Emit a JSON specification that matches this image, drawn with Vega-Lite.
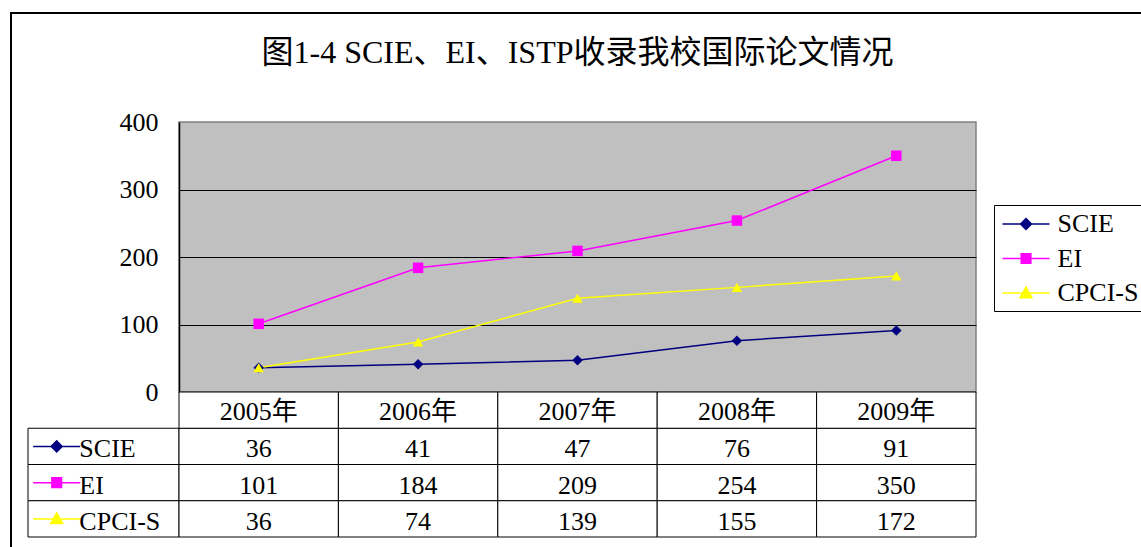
{
  "$schema": "https://vega.github.io/schema/vega-lite/v6.json",
  "width": 797,
  "height": 270,
  "autosize": {"type": "none"},
  "padding": {"left": 179, "top": 122, "right": 165, "bottom": 155},
  "background": "white",
  "title": {
    "text": "图1-4 SCIE、EI、ISTP收录我校国际论文情况",
    "font": "Liberation Serif, Noto Sans CJK SC",
    "fontSize": 32,
    "fontWeight": "normal",
    "color": "black",
    "anchor": "middle",
    "offset": -58
  },
  "config": {
    "view": {"fill": "#C0C0C0", "stroke": "#808080", "strokeWidth": 1.5},
    "font": "Liberation Serif, Noto Sans CJK SC",
    "legend": {
      "orient": "none",
      "legendX": 815,
      "legendY": 83,
      "strokeColor": "black",
      "fillColor": "white",
      "padding": 5,
      "rowPadding": 7.5,
      "labelFont": "Liberation Serif",
      "labelFontSize": 26,
      "labelColor": "black",
      "labelLimit": 300,
      "symbolSize": 676,
      "symbolStrokeWidth": 1.5,
      "symbolOpacity": 1,
      "labelOffset": 17.5,
      "symbolOffset": 13,
      "cornerRadius": 0
    }
  },
  "datasets": {
    "d": [
      {"year": "2005年", "series": "SCIE", "value": 36},
      {"year": "2006年", "series": "SCIE", "value": 41},
      {"year": "2007年", "series": "SCIE", "value": 47},
      {"year": "2008年", "series": "SCIE", "value": 76},
      {"year": "2009年", "series": "SCIE", "value": 91},
      {"year": "2005年", "series": "EI", "value": 101},
      {"year": "2006年", "series": "EI", "value": 184},
      {"year": "2007年", "series": "EI", "value": 209},
      {"year": "2008年", "series": "EI", "value": 254},
      {"year": "2009年", "series": "EI", "value": 350},
      {"year": "2005年", "series": "CPCI-S", "value": 36},
      {"year": "2006年", "series": "CPCI-S", "value": 74},
      {"year": "2007年", "series": "CPCI-S", "value": 139},
      {"year": "2008年", "series": "CPCI-S", "value": 155},
      {"year": "2009年", "series": "CPCI-S", "value": 172}
    ]
  },
  "data": {"name": "d"},
  "resolve": {"scale": {"x": "independent", "y": "independent"}},
  "layer": [
    {
      "transform": [
        {"aggregate": [{"op": "count", "as": "n"}], "groupby": ["series"]},
        {"calculate": "'lbl'", "as": "col"}
      ],
      "layer": [
        {
          "mark": {"type": "rect", "fill": "white", "stroke": "black", "strokeWidth": 1},
          "encoding": {
            "x": {"field": "col", "type": "nominal", "scale": {"type": "band", "domain": ["lbl"], "range": [-151, 0], "paddingInner": 0, "paddingOuter": 0}, "axis": null},
            "y": {"field": "series", "type": "nominal", "scale": {"type": "band", "domain": ["hdr", "SCIE", "EI", "CPCI-S"], "range": [270, 415], "paddingInner": 0, "paddingOuter": 0}, "axis": null}
          }
        },
        {
          "mark": {"type": "point", "filled": true, "size": 676, "strokeWidth": 1.5, "opacity": 1},
          "encoding": {
            "x": {"field": "col", "type": "nominal", "bandPosition": 0.19, "axis": null},
            "y": {"field": "series", "type": "nominal", "axis": null},
            "color": {
              "field": "series", "type": "nominal",
              "scale": {"domain": ["SCIE", "EI", "CPCI-S", "SCIE.m", "EI.m", "CPCI-S.m"], "range": ["#000080", "#FF00FF", "#FFFF00", "#000080", "#FF00FF", "#FFFF00"]},
              "legend": {"values": ["SCIE", "EI", "CPCI-S"], "title": null}
            },
            "stroke": {
              "field": "series", "type": "nominal",
              "scale": {"domain": ["SCIE", "EI", "CPCI-S", "SCIE.m", "EI.m", "CPCI-S.m"], "range": ["#000080", "#FF00FF", "#FFFF00", "#000080", "#FF00FF", "#FFFF00"]},
              "legend": {"values": ["SCIE", "EI", "CPCI-S"], "title": null}
            },
            "shape": {
              "field": "series", "type": "nominal",
              "scale": {
                "domain": ["SCIE", "EI", "CPCI-S", "SCIE.m", "EI.m", "CPCI-S.m"],
                "range": [
                  "M-1.81,0L1.81,0M-0.42,0L0,-0.42L0.42,0L0,0.42Z",
                  "M-1.81,0L1.81,0M-0.37,-0.37L0.37,-0.37L0.37,0.37L-0.37,0.37Z",
                  "M-1.81,0L1.81,0M0,-0.46L0.46,0.36L-0.46,0.36Z",
                  "diamond", "square", "triangle-up"
                ]
              },
              "legend": {"values": ["SCIE", "EI", "CPCI-S"], "title": null}
            }
          }
        },
        {
          "mark": {"type": "text", "align": "left", "baseline": "middle", "fontSize": 26, "color": "black", "dy": 3},
          "encoding": {
            "x": {"field": "col", "type": "nominal", "bandPosition": 0.34, "axis": null},
            "y": {"field": "series", "type": "nominal", "axis": null},
            "text": {"field": "series"}
          }
        }
      ]
    },
    {
      "data": {"values": [{"f": "frame"}]},
      "mark": {"type": "rect", "fillOpacity": 0, "stroke": "black", "strokeWidth": 2},
      "encoding": {
        "x": {"field": "f", "type": "nominal", "scale": {"type": "band", "domain": ["frame"], "range": [-168, 1000], "paddingInner": 0, "paddingOuter": 0}, "axis": null},
        "y": {"field": "f", "type": "nominal", "scale": {"type": "band", "domain": ["frame"], "range": [-109, 440], "paddingInner": 0, "paddingOuter": 0}, "axis": null}
      }
    },
    {
      "encoding": {
        "x": {"field": "year", "type": "nominal", "scale": {"type": "band", "paddingInner": 0, "paddingOuter": 0}, "axis": null},
        "y": {
          "field": "value", "type": "quantitative",
          "scale": {"domain": [0, 400]},
          "axis": {
            "values": [0, 100, 200, 300, 400],
            "grid": true,
            "gridColor": {"condition": {"test": "datum.value == 0 || datum.value == 400", "value": "transparent"}, "value": "black"},
            "gridWidth": 1,
            "ticks": false,
            "labelPadding": 21,
            "labelFont": "Liberation Serif",
            "labelFontSize": 26,
            "labelColor": "black",
            "domainColor": "black",
            "domainWidth": 1.5,
            "title": null,
            "format": "d"
          }
        }
      },
      "layer": [
        {
          "mark": {"type": "line", "strokeWidth": 1.5},
          "encoding": {
            "color": {"field": "series", "type": "nominal", "legend": {"values": ["SCIE", "EI", "CPCI-S"], "title": null}}
          }
        },
        {
          "transform": [{"calculate": "datum.series + '.m'", "as": "mk"}],
          "mark": {"type": "point", "filled": true, "size": 110, "opacity": 1},
          "encoding": {
            "color": {"field": "mk", "type": "nominal", "legend": {"values": ["SCIE", "EI", "CPCI-S"], "title": null}},
            "shape": {"field": "mk", "type": "nominal", "legend": {"values": ["SCIE", "EI", "CPCI-S"], "title": null}}
          }
        }
      ]
    },
    {
      "layer": [
        {
          "layer": [
            {"mark": {"type": "rect", "fill": "white", "stroke": "black", "strokeWidth": 1}},
            {"mark": {"type": "text", "baseline": "middle", "fontSize": 26, "color": "black", "dy": 3}, "encoding": {"text": {"field": "value"}}}
          ],
          "encoding": {
            "x": {"field": "year", "type": "nominal", "scale": {"type": "band", "paddingInner": 0, "paddingOuter": 0}, "axis": null},
            "y": {"field": "series", "type": "nominal", "scale": {"type": "band", "domain": ["hdr", "SCIE", "EI", "CPCI-S"], "range": [270, 415], "paddingInner": 0, "paddingOuter": 0}, "axis": null}
          }
        },
        {
          "transform": [
            {"aggregate": [{"op": "count", "as": "n"}], "groupby": ["year"]},
            {"calculate": "'hdr'", "as": "series"}
          ],
          "layer": [
            {"mark": {"type": "rect", "fill": "white", "stroke": "black", "strokeWidth": 1}},
            {"mark": {"type": "text", "baseline": "middle", "fontSize": 26, "color": "black", "dy": 2}, "encoding": {"text": {"field": "year"}}}
          ],
          "encoding": {
            "x": {"field": "year", "type": "nominal", "axis": null},
            "y": {"field": "series", "type": "nominal", "axis": null}
          }
        }
      ]
    }
  ]
}
